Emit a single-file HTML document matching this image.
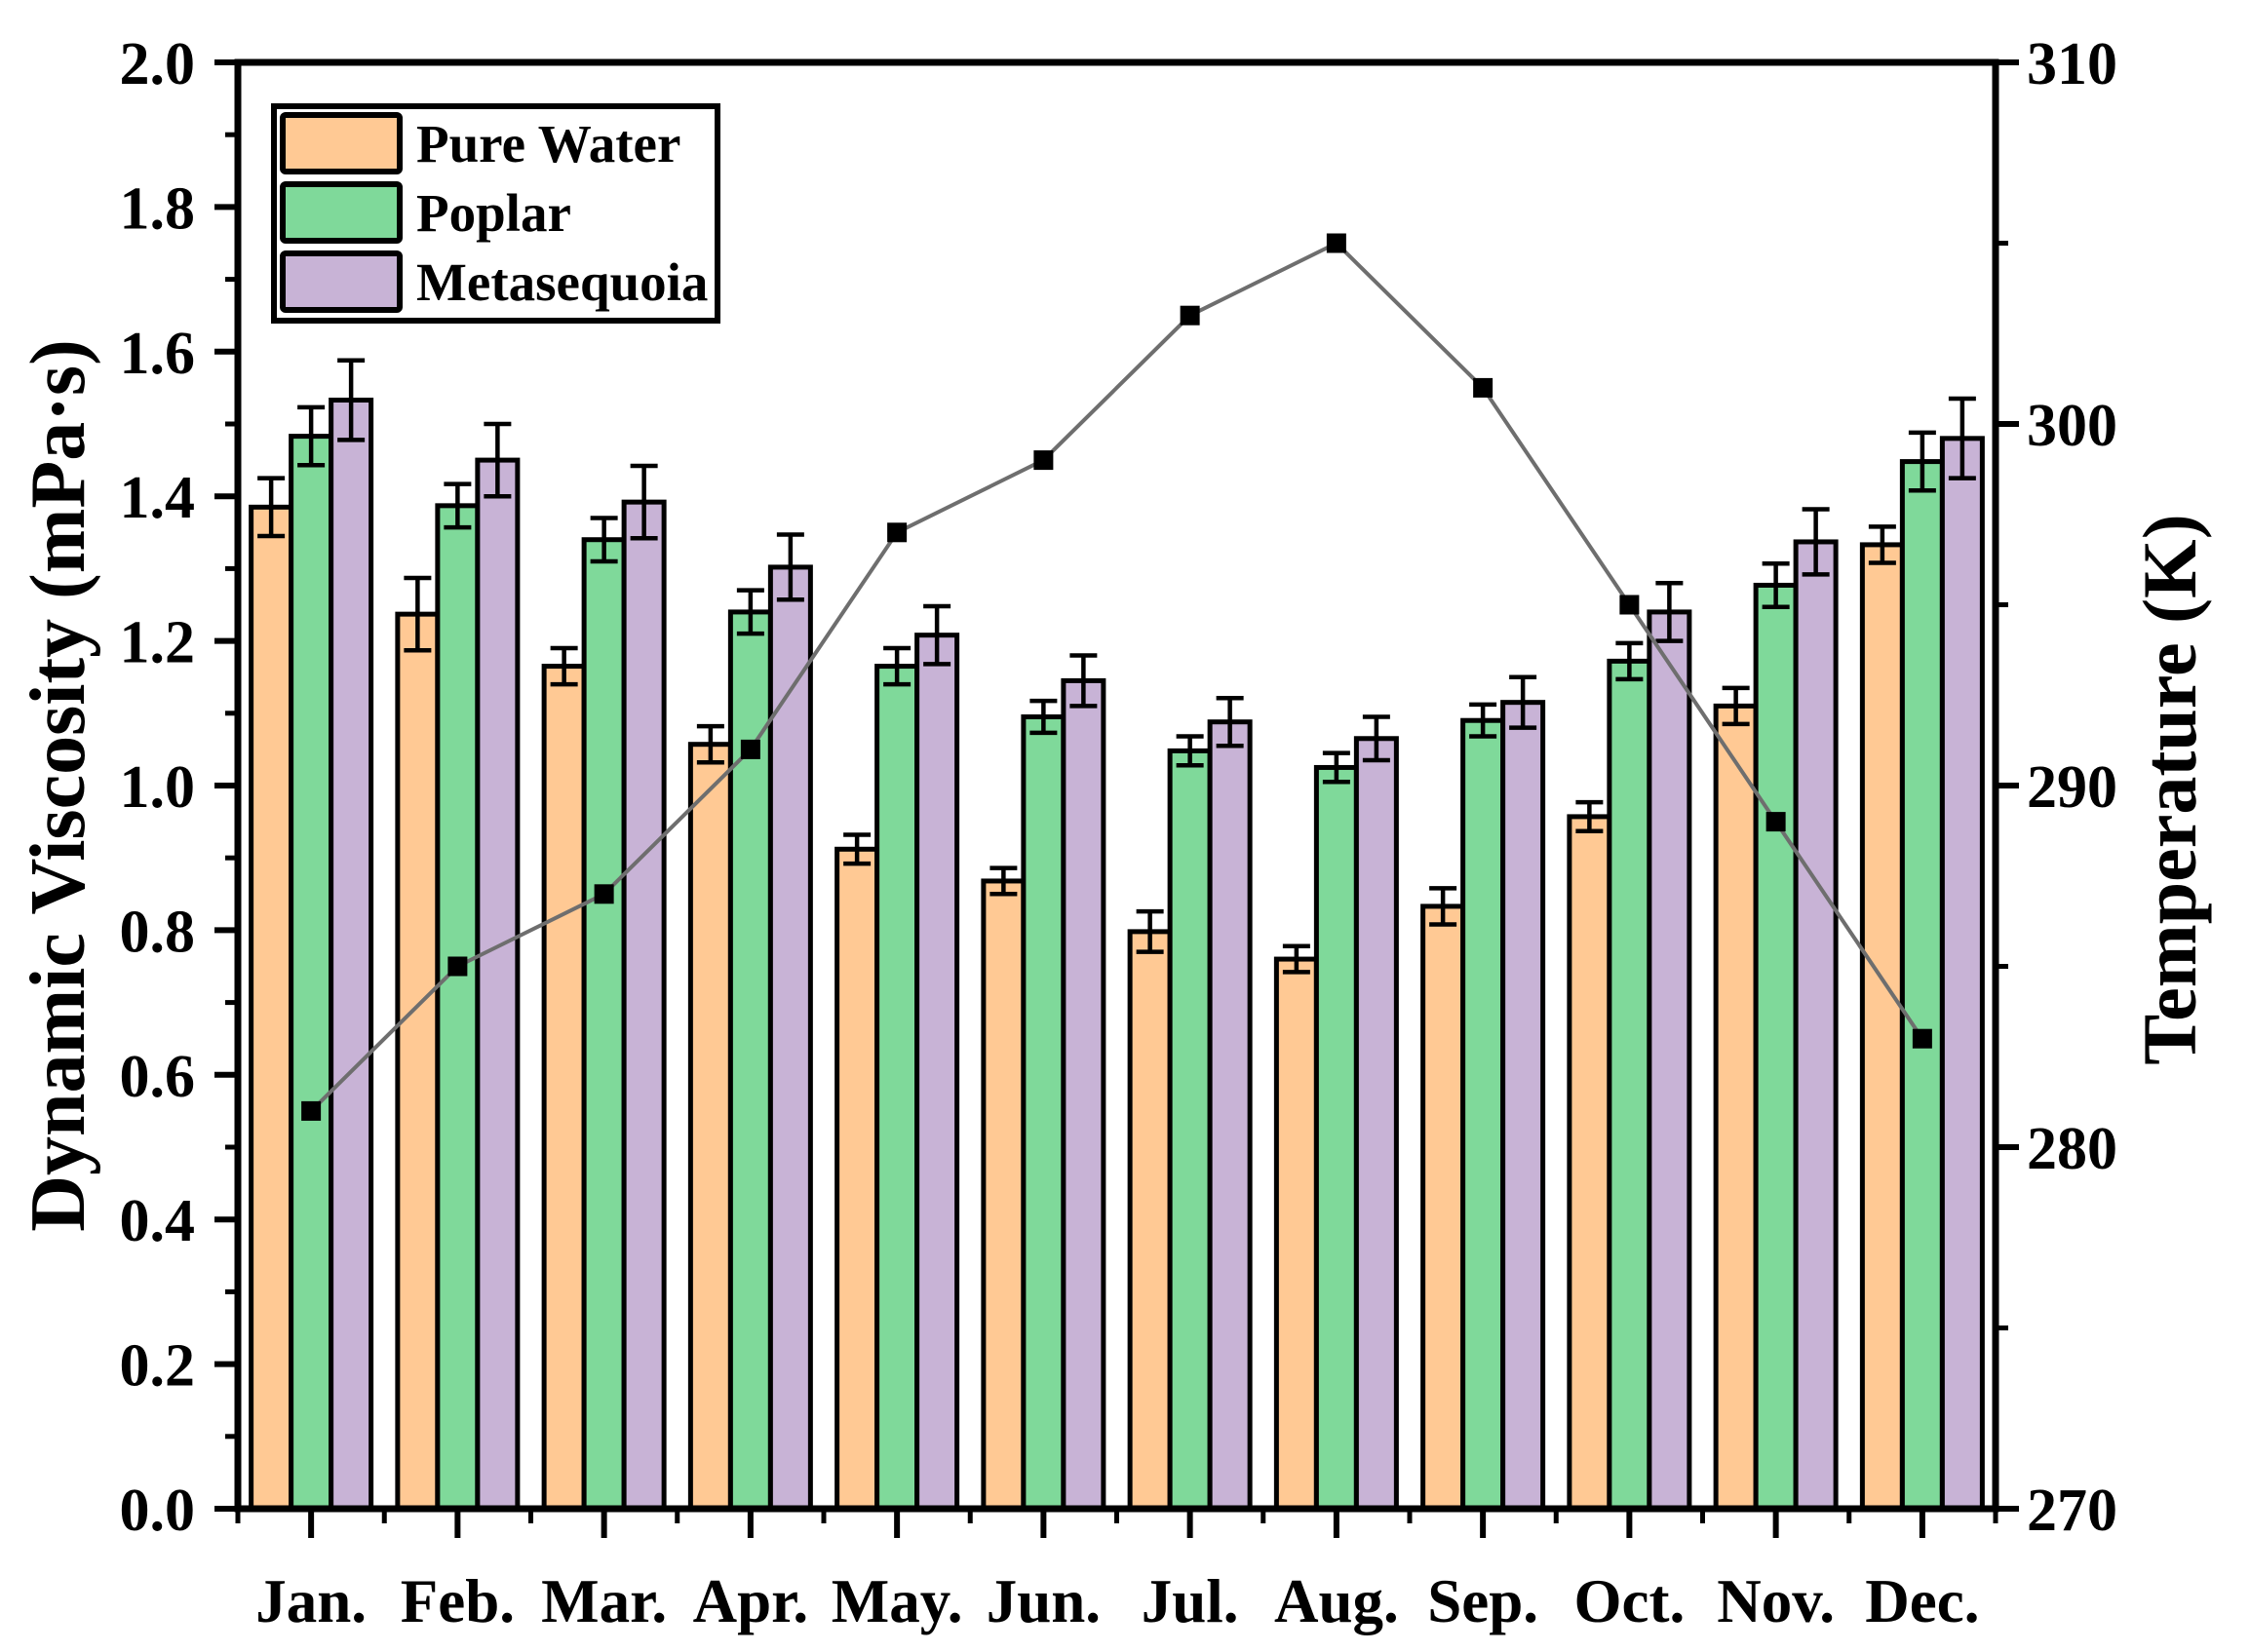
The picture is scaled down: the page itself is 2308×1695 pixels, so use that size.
<!DOCTYPE html>
<html><head><meta charset="utf-8"><style>
html,body{margin:0;padding:0;background:#fff;}
svg{display:block;font-family:"Liberation Serif",serif;font-weight:bold;}
</style></head><body>
<svg id="chart" width="2308" height="1695" viewBox="0 0 2308 1695" xmlns="http://www.w3.org/2000/svg">
<g id="plot"></g>
</svg>
<script>
const months = ["Jan.","Feb.","Mar.","Apr.","May.","Jun.","Jul.","Aug.","Sep.","Oct.","Nov.","Dec."];
const pureWater = [1.385,1.237,1.165,1.057,0.912,0.868,0.798,0.760,0.833,0.957,1.110,1.333];
const pureWaterErr = [0.04,0.05,0.025,0.025,0.02,0.018,0.028,0.018,0.025,0.02,0.025,0.025];
const poplar = [1.483,1.387,1.340,1.240,1.165,1.095,1.048,1.025,1.090,1.172,1.277,1.448];
const poplarErr = [0.04,0.03,0.03,0.03,0.025,0.022,0.02,0.02,0.022,0.025,0.03,0.04];
const metasequoia = [1.533,1.450,1.392,1.302,1.208,1.145,1.088,1.065,1.115,1.240,1.337,1.480];
const metasequoiaErr = [0.055,0.05,0.05,0.045,0.04,0.035,0.033,0.03,0.035,0.04,0.045,0.055];
const temperature = [281,285,287,291,297,299,303,305,301,295,289,283];
const leftTicks = ["0.0","0.2","0.4","0.6","0.8","1.0","1.2","1.4","1.6","1.8","2.0"];
const rightTicks = ["270","280","290","300","310"];

const NS="http://www.w3.org/2000/svg";
const g=document.getElementById('plot');
const X0=244,X1=2047,Y0=64,Y1=1548;
const step=(X1-X0)/months.length;
const xc=i=>X0+step*(i+0.5);
const yL=v=>Y1-(v/2.0)*(Y1-Y0);
const yR=v=>Y1-((v-270)/40)*(Y1-Y0);
function mk(tag,attrs,parent){const e=document.createElementNS(NS,tag);for(const k in attrs)e.setAttribute(k,attrs[k]);(parent||g).appendChild(e);return e;}

const series=[{name:"pure-water",vals:pureWater,err:pureWaterErr,color:"#FFC994",label:"Pure Water"},
{name:"poplar",vals:poplar,err:poplarErr,color:"#7FD99A",label:"Poplar"},
{name:"metasequoia",vals:metasequoia,err:metasequoiaErr,color:"#C8B3D6",label:"Metasequoia"}];
const bw=41;
series.forEach((s,si)=>{
  s.vals.forEach((v,i)=>{
    const cx=xc(i)+(si-1)*bw;
    const r=mk('rect',{x:cx-bw/2,y:yL(v),width:bw,height:Y1-yL(v),fill:s.color,stroke:"#000","stroke-width":5});
    
    
    const e=mk('path',{d:`M${cx} ${yL(v+s.err[i])}V${yL(v-s.err[i])}M${cx-14} ${yL(v+s.err[i])}h28M${cx-14} ${yL(v-s.err[i])}h28`,stroke:"#000","stroke-width":4.5,fill:"none"});
    
    
  });
});
const pts=temperature.map((t,i)=>xc(i)+","+yR(t)).join(" ");
const ln=mk('polyline',{points:pts,fill:"none",stroke:"#6e6e6e","stroke-width":4});


temperature.forEach((t,i)=>{
  const m=mk('rect',{x:xc(i)-10,y:yR(t)-10,width:20,height:20,fill:"#000"});
  
  
});
const fr=mk('rect',{x:X0,y:Y0,width:X1-X0,height:Y1-Y0,fill:"none",stroke:"#000","stroke-width":7});


leftTicks.forEach((lab,i)=>{
  const v=i*0.2;const y=yL(v);
  mk('line',{x1:X0-24,x2:X0,y1:y,y2:y,stroke:"#000","stroke-width":6});
  if(i<leftTicks.length-1){const ym=yL(v+0.1);mk('line',{x1:X0-13,x2:X0,y1:ym,y2:ym,stroke:"#000","stroke-width":5});}
  const t=mk('text',{x:200,y:y+22,"text-anchor":"end","font-size":62});t.textContent=lab;
  
  
});
rightTicks.forEach((lab,i)=>{
  const v=270+i*10;const y=yR(v);
  mk('line',{x1:X1,x2:X1+24,y1:y,y2:y,stroke:"#000","stroke-width":6});
  if(i<rightTicks.length-1){const ym=yR(v+5);mk('line',{x1:X1,x2:X1+13,y1:ym,y2:ym,stroke:"#000","stroke-width":5});}
  const t=mk('text',{x:2079,y:y+22,"text-anchor":"start","font-size":62});t.textContent=lab;
  
  
});
months.forEach((m,i)=>{
  const x=xc(i);
  mk('line',{x1:x,x2:x,y1:Y1,y2:Y1+30,stroke:"#000","stroke-width":6});
  mk('line',{x1:X0+step*i,x2:X0+step*i,y1:Y1,y2:Y1+15,stroke:"#000","stroke-width":5});
  const t=mk('text',{x:x,y:1664,"text-anchor":"middle","font-size":63});t.textContent=m;
  
  
});
mk('line',{x1:X1,x2:X1,y1:Y1,y2:Y1+15,stroke:"#000","stroke-width":5});
const lt=mk('text',{x:0,y:0,transform:"translate(86,806) rotate(-90)","text-anchor":"middle","font-size":80});
lt.textContent="Dynamic Viscosity (mPa·s)";


const rt=mk('text',{x:0,y:0,transform:"translate(2252,810) rotate(-90)","text-anchor":"middle","font-size":78});
rt.textContent="Temperature (K)";


const lg=mk('g',{});


mk('rect',{x:281,y:109,width:455,height:220,fill:"#fff",stroke:"#000","stroke-width":6},lg);
series.forEach((s,i)=>{
  const y=118+i*71;
  const sw=mk('rect',{x:290,y:y,width:120,height:58,fill:s.color,stroke:"#000","stroke-width":6,rx:3},lg);
  
  
  const t=mk('text',{x:427,y:y+48,"font-size":55},lg);t.textContent=s.label;
  
  
});
</script>
</body></html>
